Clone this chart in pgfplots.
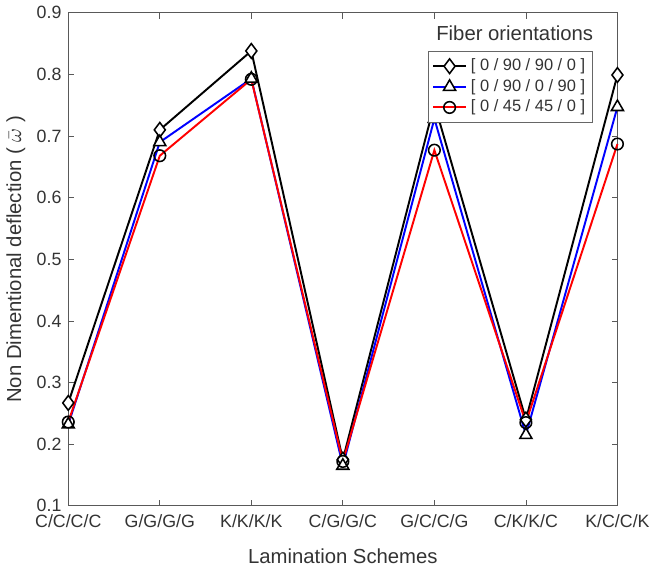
\documentclass[border=0pt]{standalone}
\usepackage{pgfplots}
\pgfplotsset{compat=1.18}
\usepackage{fontspec}
\setmainfont{Liberation Sans}
\begin{document}
\begin{tikzpicture}
\begin{axis}[
  scale only axis,
  width=284pt, height=255pt,
  xmin=0, xmax=6, ymin=0.1, ymax=0.9,
  xtick={0,1,2,3,4,5,6},
  xticklabels={C/C/C/C,G/G/G/G,K/K/K/K,C/G/G/C,G/C/C/G,C/K/K/C,K/C/C/K},
  ytick={0.1,0.2,...,0.9},
  yticklabel style={/pgf/number format/.cd, fixed, fixed zerofill, precision=1},
  /pgf/number format/assume math mode=true,
  tick align=inside,
  major tick length=3pt,
  axis line style={draw=black!65, line width=0.6pt},
  every tick/.style={black!65},
  tick label style={font=\fontsize{9.2}{11}\selectfont, text=black!80},
  xticklabel style={yshift=-1pt},
  xlabel={Lamination Schemes},
  ylabel={Non Dimentional deflection ( $\bar{\omega}$ )},
  label style={font=\fontsize{10.5}{12}\selectfont, text=black!80},
  xlabel style={yshift=-4pt},
  ylabel style={yshift=-1pt},
  legend style={at={(0.956,0.923)}, anchor=north east, draw=black!60,
    font=\fontsize{8.5}{10}\selectfont, text=black!80, inner sep=2pt,
    row sep=-1pt, cells={anchor=west}},
  clip=false,
]
\addplot[black, line width=1pt, mark=diamond*, mark options={fill=white, draw=black, line width=0.8pt, scale=1.9}]
  coordinates {(0,0.267) (1,0.710) (2,0.838) (3,0.175) (4,0.752) (5,0.240) (6,0.799)};
\addlegendentry{\relax[ 0 / 90 / 90 / 0 ]}
\addplot[blue, line width=1pt, mark=triangle*, mark options={fill=white, draw=black, line width=0.8pt, scale=1.8}]
  coordinates {(0,0.232) (1,0.690) (2,0.793) (3,0.165) (4,0.728) (5,0.215) (6,0.747)};
\addlegendentry{\relax[ 0 / 90 / 0 / 90 ]}
\addplot[red, line width=1pt, mark=o, mark options={fill=white, draw=black, line width=0.8pt, scale=1.5}]
  coordinates {(0,0.236) (1,0.668) (2,0.792) (3,0.172) (4,0.677) (5,0.235) (6,0.687)};
\addlegendentry{\relax[ 0 / 45 / 45 / 0 ]}
\node[font=\fontsize{10.5}{12}\selectfont, text=black!80, anchor=south] at (rel axis cs:0.813,0.93) {Fiber orientations};
% a little head room above the frame
\path[draw=none] (rel axis cs:0,1) -- ++(0,9pt);
\end{axis}
\end{tikzpicture}
\end{document}
